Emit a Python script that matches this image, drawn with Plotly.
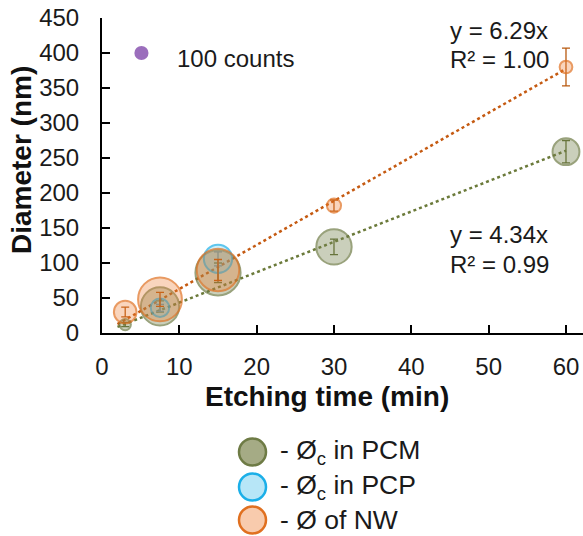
import plotly.graph_objects as go

# ---- data ----
time_pcm = [3, 7.5, 15, 30, 60]
dia_pcm = [12, 38, 86, 123, 259]
err_pcm = [3, 8, 14, 11, 16]
cnt_pcm = [64, 730, 1020, 625, 360]

time_pcp = [7.5, 15]
dia_pcp = [36, 106]
err_pcp = [5, 10]
cnt_pcp = [170, 400]

time_nw = [3, 7.5, 15, 30, 60]
dia_nw = [30, 48, 90, 182, 380]
err_nw = [7, 10, 15, 8, 27]
cnt_nw = [256, 960, 900, 100, 81]

slope_nw = 6.29
slope_pcm = 4.34
fit_x = [2, 60]

ref_count = [100]
ref_pos = ([5.1], [400])

legend_labels = ["- Ø<sub>c</sub> in PCM", "- Ø<sub>c</sub> in PCP", "- Ø of NW"]

FONT = "Liberation Sans, Arial, sans-serif"
W, H = 583, 536
L, R, T, B = 102, 0, 18, 203
PW = W - L - R
PH = H - T - B

olive_line = "#6E7B45"
olive_fill = "rgba(120,132,80,0.55)"
cyan_line = "#1BAFE8"
cyan_fill = "rgba(80,200,240,0.40)"
orange_line = "#E07020"
orange_fill = "rgba(237,125,49,0.45)"

fig = go.Figure()

# trend lines
fig.add_trace(go.Scatter(x=fit_x, y=[slope_pcm * v for v in fit_x], mode="lines",
                         line=dict(color="#6B7A3A", width=2.5, dash="dot"),
                         hoverinfo="skip", showlegend=False))
fig.add_trace(go.Scatter(x=fit_x, y=[slope_nw * v for v in fit_x], mode="lines",
                         line=dict(color="#C55A11", width=2.5, dash="dot"),
                         hoverinfo="skip", showlegend=False))


def bubble(x, y, e, c, fill, line, ecol):
    return go.Scatter(
        x=x, y=y, mode="markers", showlegend=False, cliponaxis=False,
        marker=dict(size=c, sizemode="area", sizeref=1, color=fill,
                    line=dict(color=line, width=2)),
        error_y=dict(type="data", array=e, visible=True, color=ecol,
                     thickness=1.3, width=4))


fig.add_trace(bubble(time_pcm, dia_pcm, err_pcm, cnt_pcm, olive_fill, olive_line, "#5E6B30"))
fig.add_trace(bubble(time_pcp, dia_pcp, err_pcp, cnt_pcp, cyan_fill, cyan_line, "#6A8A90"))
fig.add_trace(bubble(time_nw, dia_nw, err_nw, cnt_nw, orange_fill, orange_line, "#B85A10"))

# reference bubble (100 counts)
fig.add_trace(go.Scatter(x=ref_pos[0], y=ref_pos[1], mode="markers", showlegend=False,
                         marker=dict(size=ref_count, sizemode="area", sizeref=1,
                                     color="#7030A0", line=dict(width=0))))


def px_x(px):
    return (px - L) / PW


def px_y(py):
    return (H - B - py) / PH


ann = []
ann.append(dict(x=px_x(175), y=px_y(59), xref="paper", yref="paper", text="100 counts",
                showarrow=False, xanchor="left", yanchor="middle",
                font=dict(size=24, color="#1a1a1a", family=FONT)))
for txt, cy in [("y = 6.29x", 31), ("R² = 1.00", 60), ("y = 4.34x", 234), ("R² = 0.99", 264)]:
    ann.append(dict(x=px_x(448), y=px_y(cy), xref="paper", yref="paper", text=txt,
                    showarrow=False, xanchor="left", yanchor="middle",
                    font=dict(size=24, color="#1a1a1a", family=FONT)))

# axis titles
ann.append(dict(x=px_x(327), y=px_y(396), xref="paper", yref="paper",
                text="<b>Etching time (min)</b>", showarrow=False,
                xanchor="center", yanchor="middle",
                font=dict(size=28, color="#111", family=FONT)))
ann.append(dict(x=px_x(22), y=px_y(160), xref="paper", yref="paper",
                text="<b>Diameter (nm)</b>", showarrow=False, textangle=-90,
                xanchor="center", yanchor="middle",
                font=dict(size=28, color="#111", family=FONT)))

# custom legend
shapes = []
leg = [(olive_line, "#A5AB85", 452), (cyan_line, "#B7E6F7", 487), (orange_line, "#F8CBAD", 520)]
for (lc, fc, cy), lab in zip(leg, legend_labels):
    r = 13.5
    shapes.append(dict(type="circle", xref="paper", yref="paper",
                       x0=px_x(252.5 - r), x1=px_x(252.5 + r),
                       y0=px_y(cy + r), y1=px_y(cy - r),
                       fillcolor=fc, line=dict(color=lc, width=2.5)))
    ann.append(dict(x=px_x(278), y=px_y(cy), xref="paper", yref="paper", text=lab,
                    showarrow=False, xanchor="left", yanchor="middle",
                    font=dict(size=26.5, color="#1a1a1a", family=FONT)))

fig.update_layout(
    width=W, height=H, margin=dict(l=L, r=R, t=T, b=B, pad=0),
    paper_bgcolor="white", plot_bgcolor="white",
    font=dict(family=FONT, color="#1a1a1a", size=24),
    annotations=ann, shapes=shapes,
    xaxis=dict(range=[0, 62.2], tickvals=[0, 10, 20, 30, 40, 50, 60],
               showgrid=False, zeroline=False, showline=True, linecolor="black",
               linewidth=2, ticks="inside", ticklen=8, tickwidth=2, tickcolor="black",
               ticklabelstandoff=11, tickfont=dict(size=24)),
    yaxis=dict(range=[0, 450], tickvals=list(range(0, 451, 50)),
               showgrid=False, zeroline=False, showline=True, linecolor="black",
               linewidth=2, ticks="inside", ticklen=8, tickwidth=2, tickcolor="black",
               ticklabelstandoff=16, tickfont=dict(size=24)),
)

fig.write_html("out.html")
